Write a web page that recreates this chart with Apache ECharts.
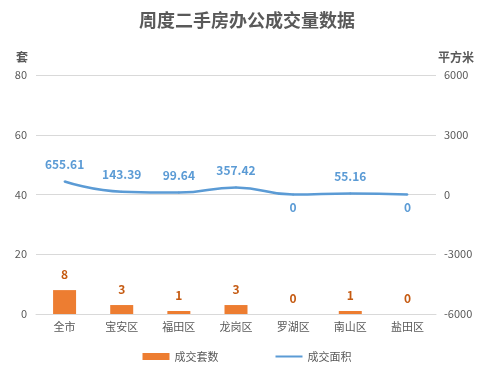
<!DOCTYPE html>
<html><head><meta charset="utf-8">
<script src="https://cdn.jsdelivr.net/npm/echarts@6/dist/echarts.min.js"></script>
<style>html,body{margin:0;padding:0;background:#fff}#c{width:494px;height:371px}</style>
</head><body><div id="c"></div>
<script>
const categories = ['全市','宝安区','福田区','龙岗区','罗湖区','南山区','盐田区'];
const countValues = [8,3,1,3,0,1,0];
const areaValues = [655.61,143.39,99.64,357.42,0,55.16,0];
const leftTicks = [0,80,20];
const rightTicks = [-6000,6000,3000];

const font = '"Noto Sans CJK SC", "Microsoft YaHei", sans-serif';
const chart = echarts.init(document.getElementById('c'), null, {renderer:'canvas'});
chart.setOption({
  animation:false,
  textStyle:{fontFamily:font},
  title:{text:'周度二手房办公成交量数据',left:'center',top:6,
    textStyle:{fontSize:18,fontWeight:'bold',color:'#595959',fontFamily:font}},
  legend:{bottom:4,left:'center',itemGap:56,itemWidth:27,itemHeight:7,
    textStyle:{fontSize:11,color:'#595959',fontFamily:font},
    data:[{name:'成交套数',icon:'rect'},{name:'成交面积',itemStyle:{opacity:0}}]},
  grid:{left:36,right:58,top:75,bottom:57,containLabel:false},
  xAxis:{type:'category',data:categories,
    axisLine:{lineStyle:{color:'#d9d9d9'}},axisTick:{show:false},
    axisLabel:{color:'#595959',fontSize:11,margin:7,fontFamily:font}},
  yAxis:[
    {type:'value',name:'套',min:leftTicks[0],max:leftTicks[1],interval:leftTicks[2],
     nameTextStyle:{color:'#595959',fontWeight:'bold',fontSize:12,align:'center',padding:[0,0,0,-28]},
     nameGap:12,
     axisLine:{show:false},axisTick:{show:false},
     axisLabel:{color:'#595959',fontSize:11,margin:9},
     splitLine:{lineStyle:{color:'#d9d9d9'}}},
    {type:'value',name:'平方米',min:rightTicks[0],max:rightTicks[1],interval:rightTicks[2],
     nameTextStyle:{color:'#595959',fontWeight:'bold',fontSize:12,align:'center',padding:[0,0,0,40]},
     nameGap:12,
     axisLine:{show:false},axisTick:{show:false},
     axisLabel:{color:'#595959',fontSize:11,margin:8,formatter:v=>String(v)},
     splitLine:{show:false}}
  ],
  series:[
    {name:'成交套数',type:'bar',yAxisIndex:0,data:countValues,barWidth:23,
     itemStyle:{color:'#ed7d31'},
     label:{show:true,position:'top',distance:10,color:'#c55a11',fontWeight:'bold',fontSize:12}},
    {name:'成交面积',type:'line',yAxisIndex:1,smooth:true,symbol:'circle',symbolSize:2,showSymbol:true,
     lineStyle:{color:'#5b9bd5',width:2.5},itemStyle:{color:'#5b9bd5'},
     data:areaValues.map(v=>({value:v,label:{position:v===0?'bottom':'top',distance:v===0?6:10}})),
     label:{show:true,color:'#5b9bd5',fontWeight:'bold',fontSize:12}}
  ]
});
</script></body></html>
